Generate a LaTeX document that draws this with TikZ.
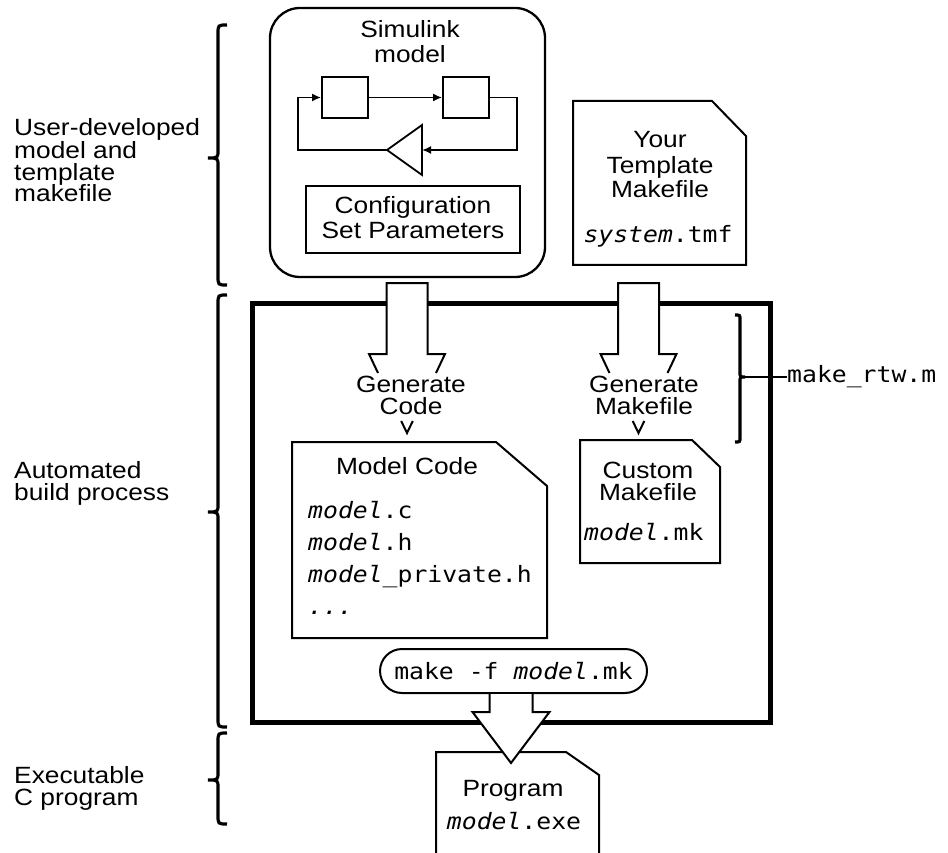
\documentclass[tikz,border=0pt]{standalone}
\usepackage{fontspec}
\setmainfont{Liberation Sans}[FakeStretch=1.12]
\newfontfamily\monofont{DejaVu Sans Mono}[FakeStretch=1.1]
\usetikzlibrary{arrows.meta}

\begin{document}
\begin{tikzpicture}[x=1pt,y=-1pt,
    lbl/.style={font=\fontsize{23.5}{25}\selectfont,align=center,inner sep=0pt},
    lbltight/.style={font=\fontsize{23.5}{21.5}\selectfont,align=center,inner sep=0pt},
    side/.style={font=\fontsize{23.5}{22}\selectfont,align=left,inner sep=0pt,anchor=base west},
    code/.style={font=\monofont\fontsize{22.5}{32}\selectfont,inner sep=0pt},
    sig/.style={line width=1.8pt,-{Latex[length=9pt,width=8pt]}},
    doc/.style={draw,line width=2pt,line join=miter},
    fat/.style={draw,line width=2pt,fill=white,line join=miter},
    grp/.style={line width=3.2pt}]

    \useasboundingbox (0,0) rectangle (948,853);

    % 左侧说明文字（base 为最后一行的基线）
    \node[side] (lbluser) at (14,202) {User-developed\\model and\\template\\makefile};
    \node[side] (lblauto) at (14,500) {Automated\\build process};
    \node[side] (lblexe) at (14,805) {Executable\\C program};

    % 左侧分组括号
    \draw[grp] (227,25) .. controls (218,25) .. (218,34) -- (218,150)
        .. controls (218,158) .. (208,158) .. controls (218,158) .. (218,166)
        -- (218,276) .. controls (218,285) .. (227,285);
    \draw[grp] (227,295) .. controls (218,295) .. (218,304) -- (218,504)
        .. controls (218,512) .. (208,512) .. controls (218,512) .. (218,520)
        -- (218,718) .. controls (218,727) .. (227,727);
    \draw[grp] (227,733) .. controls (218,733) .. (218,742) -- (218,772)
        .. controls (218,780) .. (208,780) .. controls (218,780) .. (218,788)
        -- (218,815) .. controls (218,824) .. (227,824);

    % Simulink 模型
    \node[draw,rounded corners=30pt,line width=2.3pt,minimum width=275pt,minimum height=269pt] (sim) at (407.5,142.5) {};
    \node[lbl,anchor=base] (simtitle) at (410,63) {Simulink\\model};
    \node[draw,line width=1.8pt,minimum width=46pt,minimum height=41pt,inner sep=0pt] (blkA) at (345,97.5) {};
    \node[draw,line width=1.8pt,minimum width=46pt,minimum height=41pt,inner sep=0pt] (blkB) at (466,97.5) {};
    \coordinate (gin) at (422,150);
    \coordinate (gout) at (387,150);
    \coordinate (fbR) at (517,150);
    \coordinate (fbL) at (298,150);
    \draw[line width=1.8pt,line join=miter] (422,125) -- (gout) -- (422,175) -- cycle;
    \draw[sig] (blkA) -- (blkB);
    \draw[sig] (blkB.east) -| (fbR) -- (gin);
    \draw[sig] (gout) -- (fbL) |- (blkA.west);

    % 配置参数
    \node[draw,line width=2pt,minimum width=214pt,minimum height=67pt] (config) at (413,219.5) {};
    \node[lbl,anchor=base] (configtxt) at (413,239) {Configuration\\Set Parameters};

    % 模板 makefile
    \draw[doc] (573,101) -- (712,101) -- (746,136) -- (746,265) -- (573,265) -- cycle;
    \node[lbl,anchor=base] (tmftitle) at (660,198) {Your\\Template\\Makefile};
    \node[code,anchor=base] (tmf) at (658,243) {\itshape system\upshape.tmf};

    % 自动构建过程
    \node[draw,line width=5pt,minimum width=518pt,minimum height=419pt] (build) at (511,512.5) {};

    % 生成代码的箭头
    \begin{scope}[shift={(407,0)}]
        \draw[fat] (-29,373) -- (-38,354) -- (-20.5,354) -- (-20.5,283) -- (20.5,283) -- (20.5,354) -- (38,354) -- (29,373);
        \draw[fat] (-5.8,421) -- (0,433) -- (5.8,421);
    \end{scope}
    \node[lbltight,anchor=base] (gencode) at (411,414) {Generate\\Code};

    % 生成 makefile 的箭头
    \begin{scope}[shift={(638.5,0)}]
        \draw[fat] (-29,373) -- (-38,354) -- (-20.5,354) -- (-20.5,283) -- (20.5,283) -- (20.5,354) -- (38,354) -- (29,373);
        \draw[fat] (-5.8,421) -- (0,433) -- (5.8,421);
    \end{scope}
    \node[lbltight,anchor=base] (genmk) at (644,414) {Generate\\Makefile};

    % make_rtw.m 括号
    \draw[grp] (735,315) .. controls (740,315) .. (740,320) -- (740,372)
        .. controls (740,377) .. (745,377) .. controls (740,377) .. (740,382)
        -- (740,437) .. controls (740,442) .. (735,442);
    \coordinate (rtwtip) at (745,377);
    \node[code,anchor=base west] (rtw) at (787,382) {make\_rtw.m};
    \draw[line width=2pt] (rtwtip) -- (rtwtip -| rtw.west);

    % 模型代码
    \draw[doc] (292,442) -- (496,442) -- (547,486) -- (547,638) -- (292,638) -- cycle;
    \node[lbl,anchor=base] (mctitle) at (407,474) {Model Code};
    \node[code,anchor=base west,align=left] (mcfiles) at (308,614)
        {\itshape model\upshape.c\\\itshape model\upshape.h\\\itshape model\upshape\_private.h\\\itshape ...};

    % 定制 makefile
    \draw[doc] (580,440) -- (692,440) -- (720,467) -- (720,563) -- (580,563) -- cycle;
    \node[lbltight,anchor=base] (cmtitle) at (648,500) {Custom\\Makefile};
    \node[code,anchor=base west] (cmfile) at (584,540) {\itshape model\upshape.mk};

    % make 命令
    \node[draw,line width=2pt,rounded corners=22pt,minimum width=267pt,minimum height=44pt,code] (make) at (513.5,671) {make -f \itshape model\upshape.mk};

    % 可执行程序
    \draw[doc] (436,860) -- (436,752) -- (566,752) -- (599,775) -- (599,860);
    \node[lbl,anchor=base] (progtitle) at (513,796) {Program};
    \node[code,anchor=base] (progfile) at (514,829) {\itshape model\upshape.exe};

    % 底部大箭头
    \draw[fat] (489.5,694) -- (489.5,712) -- (472.5,712) -- (511,763) -- (549.5,712) -- (532.5,712) -- (532.5,694);

\end{tikzpicture}
\end{document}
